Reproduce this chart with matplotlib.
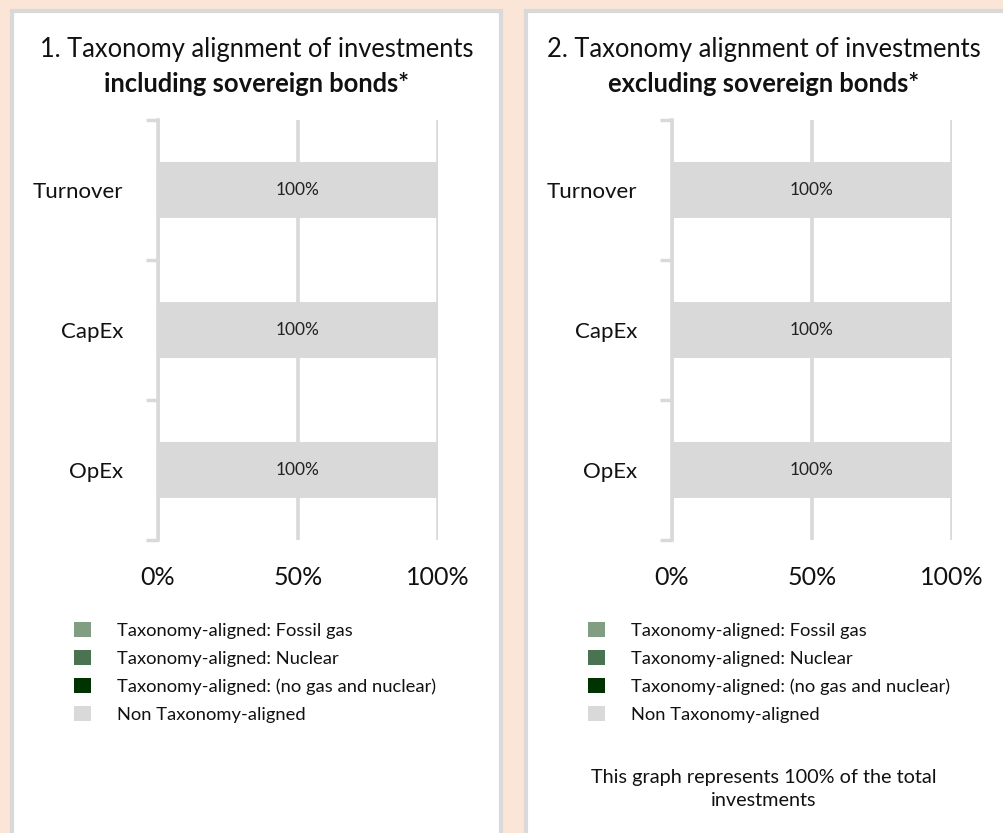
import matplotlib
matplotlib.use("Agg")
import matplotlib.pyplot as plt
from matplotlib.patches import Rectangle, Patch
import numpy as np

plt.rcParams['font.family'] = ['Lato', 'DejaVu Sans']

categories = ["Turnover", "CapEx", "OpEx"]
series_names = ["Taxonomy-aligned: Fossil gas", "Taxonomy-aligned: Nuclear",
                "Taxonomy-aligned: (no gas and nuclear)", "Non Taxonomy-aligned"]
series_colors = ["#819E82", "#4A7352", "#013201", "#D9D9D9"]
incl_values = [[0, 0, 0], [0, 0, 0], [0, 0, 0], [100, 100, 100]]
excl_values = [[0, 0, 0], [0, 0, 0], [0, 0, 0], [100, 100, 100]]
titles = ["1. Taxonomy alignment of investments", "2. Taxonomy alignment of investments"]
titles_bold = ["including sovereign bonds*", "excluding sovereign bonds*"]
xticks = [0, 50, 100]
xticklabels = ["0%", "50%", "100%"]
footnote = "This graph represents 100% of the total\ninvestments"

W, H = 1004, 833
fig = plt.figure(figsize=(W / 100, H / 100), dpi=100)
fig.patch.set_facecolor("#FBE5D6")

GRAY = "#D9D9D9"

def fx(px):
    return px / W

def fy(py):
    return 1 - py / H

# panels
bg = fig.add_axes([0, 0, 1, 1])
bg.set_xlim(0, W)
bg.set_ylim(H, 0)
bg.axis("off")
bg.set_zorder(-5)
for (x0, x1) in [(12, 501), (526, 1015)]:
    bg.add_patch(Rectangle((x0, 11), x1 - x0, 900, facecolor="white",
                           edgecolor=GRAY, linewidth=3))

panel_specs = [
    dict(ax_left=158, center=257, legend_x=74, values=incl_values),
    dict(ax_left=672, center=764, legend_x=588, values=excl_values),
]

for i, spec in enumerate(panel_specs):
    ax = fig.add_axes([fx(spec["ax_left"]), fy(540), fx(280), (540 - 120) / H])
    ax.set_facecolor("none")
    y = np.arange(len(categories))
    left = np.zeros(len(categories))
    for name, color, vals in zip(series_names, series_colors, spec["values"]):
        vals = np.array(vals, dtype=float)
        bars = ax.barh(y, vals, left=left, height=0.4, color=color, label=name, zorder=2)
        labels = [f"{v:.0f}%" if v > 0 else "" for v in vals]
        ax.bar_label(bars, labels=labels, label_type="center", fontsize=12.5, color="#222222")
        left += vals
    ax.set_xlim(0, 100)
    ax.set_ylim(len(categories) - 0.5, -0.5)
    ax.set_xticks(xticks)
    ax.set_xticklabels(xticklabels, fontsize=18, color="#111111")
    ax.tick_params(axis="x", length=0, pad=19)
    # category boundary ticks
    ax.set_yticks(np.arange(-0.5, len(categories), 1.0))
    ax.set_yticklabels([])
    ax.tick_params(axis="y", which="major", length=9, width=2.5, color=GRAY)
    ax.set_yticks(y, minor=True)
    ax.set_yticklabels(categories, minor=True, fontsize=16, color="#111111")
    ax.tick_params(axis="y", which="minor", length=0, pad=25)
    ax.grid(axis="x", color=GRAY, linewidth=2.6, zorder=0)
    ax.set_axisbelow(True)
    for s in ["top", "right", "bottom"]:
        ax.spines[s].set_visible(False)
    ax.spines["left"].set_color(GRAY)
    ax.spines["left"].set_linewidth(2.6)
    ax.spines["left"].set_zorder(3)

    # titles
    fig.text(fx(spec["center"]), fy(49), titles[i], ha="center", va="center",
             fontsize=18.4, color="#111111")
    fig.text(fx(spec["center"]), fy(84), titles_bold[i], ha="center", va="center",
             fontsize=18.4, fontweight="bold", color="#111111")

    handles = [Patch(facecolor=c, edgecolor="none") for c in series_colors]
    fig.legend(handles, series_names, loc="upper left",
               bbox_to_anchor=(fx(spec["legend_x"]), fy(622)), frameon=False,
               fontsize=13.2, handlelength=0.9, handleheight=0.9,
               handletextpad=1.45, labelspacing=0.6, borderpad=0, borderaxespad=0,
               labelcolor="#111111")

fig.text(fx(764), fy(789), footnote, ha="center", va="center", fontsize=14.3,
         color="#111111", linespacing=1.4)

fig.savefig("out.png", dpi=100, facecolor=fig.get_facecolor())
